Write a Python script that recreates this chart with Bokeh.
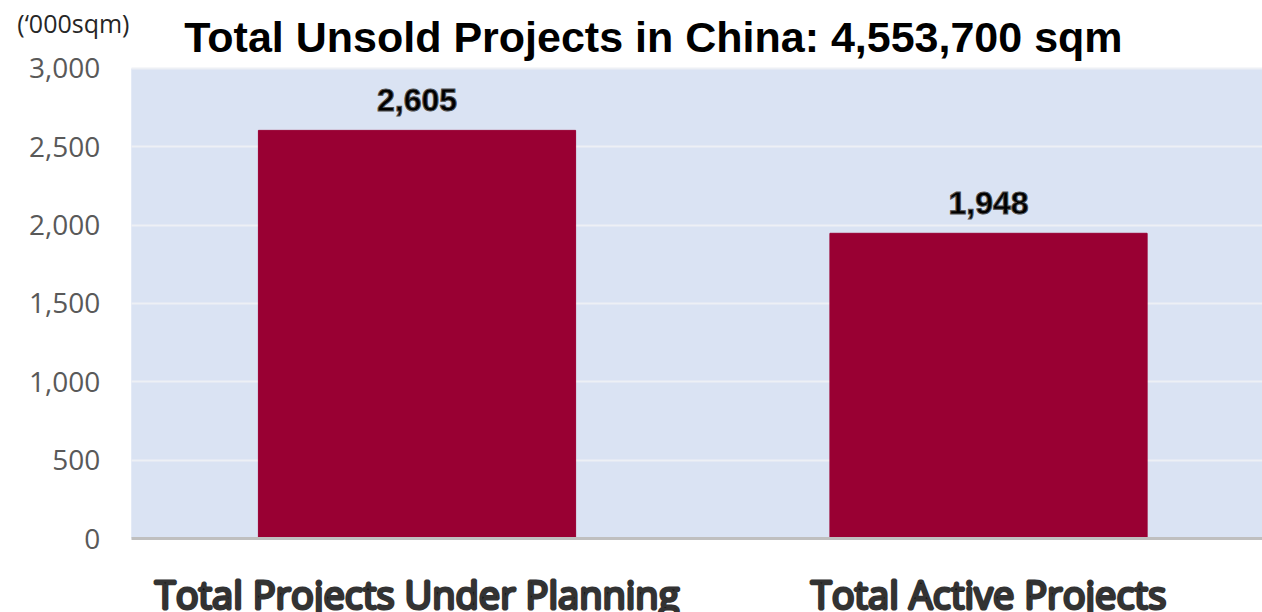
import numpy as np
from bokeh.plotting import figure
from bokeh.models import (ColumnDataSource, Range1d, LabelSet, Label, BoxAnnotation,
                          NumeralTickFormatter, FixedTicker, LinearAxis, Grid)
from bokeh.core.properties import value
from bokeh.embed import file_html
from bokeh.resources import INLINE

# ---- data ----
categories = ["Total Projects Under Planning", "Total Active Projects"]
values = [2605, 1948]
value_labels = ["2,605", "1,948"]
y_ticks = [0, 500, 1000, 1500, 2000, 2500, 3000]
title_text = "Total Unsold Projects in China: 4,553,700 sqm"
unit_text = "(\u2018000sqm)"

xs = np.arange(len(categories)) + 0.5
src = ColumnDataSource(dict(x=xs, top=values, lab=value_labels))

X0, X1 = -0.2288, 1.9794
Y0, Y1 = -472.3, 3434.0

p = figure(width=1262, height=612, output_backend="svg", toolbar_location=None,
           x_range=Range1d(X0, X1), y_range=Range1d(Y0, Y1),
           x_axis_location=None, y_axis_location=None, min_border=0,
           background_fill_color="white", border_fill_color="white",
           outline_line_color=None)

# remove any default grids
for g in list(p.center):
    if isinstance(g, Grid):
        g.visible = False

# plot-area background
p.add_layout(BoxAnnotation(left=0, bottom=y_ticks[0], top=y_ticks[-1],
                           fill_color="#DAE3F3", fill_alpha=1.0, line_color=None,
                           level="image"))

# y axis
yaxis = LinearAxis(fixed_location=0, ticker=FixedTicker(ticks=y_ticks),
                   formatter=NumeralTickFormatter(format="0,0"))
yaxis.axis_line_color = None
yaxis.major_tick_line_color = None
yaxis.minor_tick_line_color = None
yaxis.major_tick_out = 0
yaxis.major_tick_in = 0
yaxis.major_label_standoff = 31
yaxis.major_label_text_font = "Open Sans"
yaxis.major_label_text_font_size = "28px"
yaxis.major_label_text_color = "#595959"
p.add_layout(yaxis, "left")

# x axis (category labels + baseline)
xaxis = LinearAxis(fixed_location=0, ticker=FixedTicker(ticks=list(xs)),
                   major_label_overrides={float(x): c for x, c in zip(xs, categories)})
xaxis.bounds = (0, X1)
xaxis.axis_line_color = "#BFBFBF"
xaxis.axis_line_width = 3
xaxis.major_tick_line_color = None
xaxis.minor_tick_line_color = None
xaxis.major_tick_out = 0
xaxis.major_tick_in = 0
xaxis.major_label_standoff = 29
xaxis.major_label_text_font = "Open Sans"
xaxis.major_label_text_font_size = "38px"
xaxis.major_label_text_color = "#111111"
xaxis.major_label_text_outline_color = "#333333"
p.add_layout(xaxis, "below")

# horizontal grid lines limited to the plot area
grid = Grid(dimension=1, ticker=FixedTicker(ticks=y_ticks[1:]),
            cross_bounds=(0, X1), grid_line_color="#EDF0F5", grid_line_width=2)
p.add_layout(grid)

p.vbar(x="x", top="top", width=0.555, source=src, color="#990033")

# value labels
p.add_layout(LabelSet(x="x", y="top", text="lab", source=src, text_align="center",
                      text_baseline="alphabetic", y_offset=19,
                      text_font=value("Liberation Sans"), text_font_style="bold",
                      text_font_size="32px", text_color="black",
                      text_outline_color="#505050"))

# title
p.add_layout(Label(x=0, y=y_ticks[-1], x_offset=53, y_offset=31, text=title_text,
                   text_baseline="alphabetic", text_font="Liberation Sans",
                   text_font_style="bold", text_font_size="43px", text_color="black"))

# unit label
p.add_layout(Label(x=0, y=y_ticks[-1], x_offset=-114, y_offset=45, text=unit_text,
                   text_baseline="alphabetic", text_font="Open Sans",
                   text_font_size="25px", text_color="#262626"))

open("out.html", "w").write(file_html(p, INLINE))
